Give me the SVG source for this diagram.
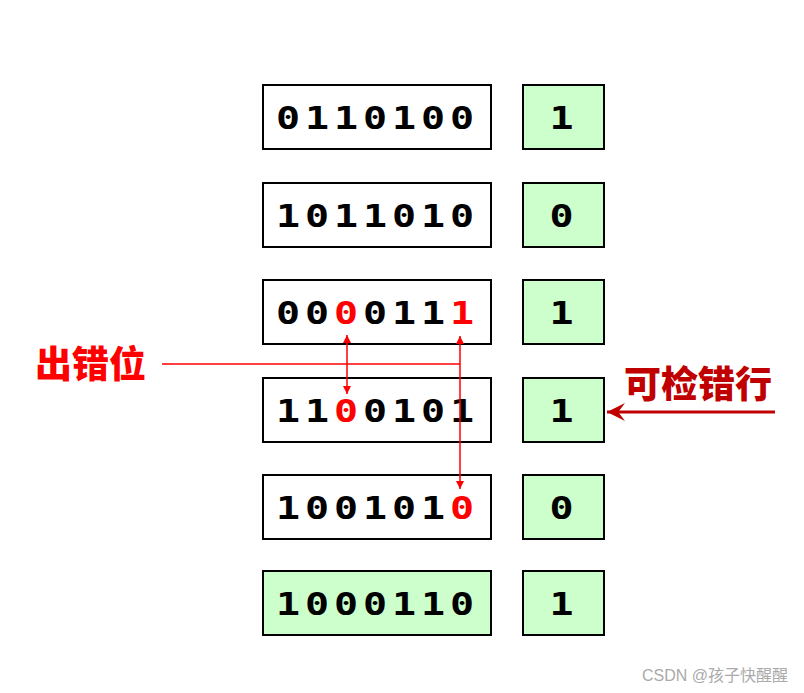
<svg xmlns="http://www.w3.org/2000/svg" width="804" height="693" viewBox="0 0 804 693">
<style>
.box{fill:#fff;stroke:#000;stroke-width:2}
.g{fill:#ccffcc;stroke:#000;stroke-width:2}
.d{font-family:"DejaVu Sans Mono",monospace;font-weight:bold;font-size:32px;fill:#000;text-anchor:middle}
.r{fill:#ff0000}
.lbl{font-family:"Noto Sans CJK SC",sans-serif;font-weight:900;font-size:37px}
</style>
<defs>
<marker id="ar" viewBox="0 0 10 10" refX="10" refY="5" markerWidth="8" markerHeight="10" markerUnits="userSpaceOnUse" orient="auto-start-reverse"><path d="M0,0 L10,5 L0,10 z" fill="#ff0000"/></marker>
<marker id="ad" viewBox="0 0 16 16" refX="16" refY="8" markerWidth="18" markerHeight="18" markerUnits="userSpaceOnUse" orient="auto"><path d="M0,0 L16,8 L0,16 L6,8 z" fill="#c00000"/></marker>
</defs>
<rect width="804" height="693" fill="#fff"/>
<g id="row1"><rect class="box" x="263" y="85" width="228" height="64"/><text class="d" transform="scale(1.25 1)" x="230.4 253.6 276.8 300 323.2 346.4 369.6" y="129">0110100</text></g>
<g id="p1"><rect class="g" x="523" y="85" width="81" height="64"/><text class="d" transform="scale(1.25 1)" x="449.2" y="129">1</text></g>
<g id="row2"><rect class="box" x="263" y="183" width="228" height="64"/><text class="d" transform="scale(1.25 1)" x="230.4 253.6 276.8 300 323.2 346.4 369.6" y="227">1011010</text></g>
<g id="p2"><rect class="g" x="523" y="183" width="81" height="64"/><text class="d" transform="scale(1.25 1)" x="449.2" y="227">0</text></g>
<g id="row3"><rect class="box" x="263" y="280" width="228" height="64"/><text class="d" transform="scale(1.25 1)" x="230.4 253.6 276.8 300 323.2 346.4 369.6" y="324">00<tspan class="r">0</tspan>011<tspan class="r">1</tspan></text></g>
<g id="p3"><rect class="g" x="523" y="280" width="81" height="64"/><text class="d" transform="scale(1.25 1)" x="449.2" y="324">1</text></g>
<g id="row4"><rect class="box" x="263" y="378" width="228" height="64"/><text class="d" transform="scale(1.25 1)" x="230.4 253.6 276.8 300 323.2 346.4 369.6" y="422">11<tspan class="r">0</tspan>0101</text></g>
<g id="p4"><rect class="g" x="523" y="378" width="81" height="64"/><text class="d" transform="scale(1.25 1)" x="449.2" y="422">1</text></g>
<g id="row5"><rect class="box" x="263" y="475" width="228" height="64"/><text class="d" transform="scale(1.25 1)" x="230.4 253.6 276.8 300 323.2 346.4 369.6" y="519">100101<tspan class="r">0</tspan></text></g>
<g id="p5"><rect class="g" x="523" y="475" width="81" height="64"/><text class="d" transform="scale(1.25 1)" x="449.2" y="519">0</text></g>
<g id="row6"><rect class="g" x="263" y="571" width="228" height="64"/><text class="d" transform="scale(1.25 1)" x="230.4 253.6 276.8 300 323.2 346.4 369.6" y="615">1000110</text></g>
<g id="p6"><rect class="g" x="523" y="571" width="81" height="64"/><text class="d" transform="scale(1.25 1)" x="449.2" y="615">1</text></g>
<g id="labels">
<text class="lbl" x="35" y="378" fill="#ff0000">出错位</text>
<text class="lbl" x="624" y="398" fill="#c00000">可检错行</text>
<text x="788" y="681" text-anchor="end" font-family="Liberation Sans,Noto Sans CJK SC,sans-serif" font-size="16" fill="#aaa">CSDN @孩子快醒醒</text>
</g>
<g id="connectors" fill="none">
<path d="M162,364 H460" stroke="#ff0000" stroke-width="1.5"/>
<path d="M347,335 V394" stroke="#ff0000" stroke-width="1.5" marker-start="url(#ar)" marker-end="url(#ar)"/>
<path d="M460,336 V489" stroke="#ff0000" stroke-width="1.5" marker-start="url(#ar)" marker-end="url(#ar)"/>
<path d="M775,412 H607" stroke="#c00000" stroke-width="3" marker-end="url(#ad)"/>
</g>
</svg>
